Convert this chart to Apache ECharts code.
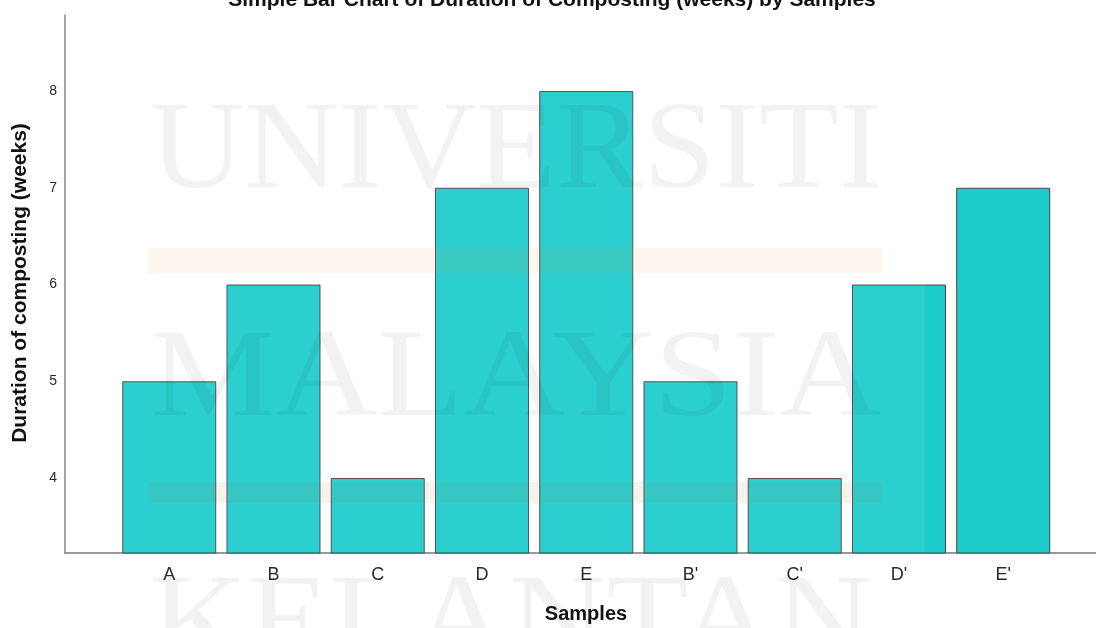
<!DOCTYPE html>
<html>
<head>
<meta charset="utf-8">
<script src="https://cdn.jsdelivr.net/npm/echarts@6/dist/echarts.min.js"></script>
<style>
  html, body { margin: 0; padding: 0; background: #ffffff; }
  #chart { width: 1096px; height: 628px; }
</style>
</head>
<body>
<div id="chart"></div>
<script>
// Samples and composting duration (weeks)
const samples = ['A', 'B', 'C', 'D', 'E', "B'", "C'", "D'", "E'"];
const durationWeeks = [5, 6, 4, 7, 8, 5, 4, 6, 7];

const chartTitle = 'Simple Bar Chart of Duration of Composting (weeks) by Samples';
const xTitle = 'Samples';
const yTitle = 'Duration of composting (weeks)';
const watermarkWords = ['UNIVERSITI', 'MALAYSIA', 'KELANTAN'];

const chart = echarts.init(document.getElementById('chart'), null, { renderer: 'canvas' });

const barData = durationWeeks.map((v, i) => [i, v]);

const boldFont = '"Liberation Sans", Arial, sans-serif';
const narrowFont = '"Liberation Sans Narrow", "Arial Narrow", "Liberation Sans", sans-serif';
const serifFont = '"Liberation Serif", "Times New Roman", serif';

function wordMark(word, y, scaleX) {
  return {
    type: 'text',
    x: 150,
    y: y,
    scaleX: scaleX,
    z: 100,
    silent: true,
    style: {
      text: word,
      font: '125px ' + serifFont,
      fill: 'rgba(0,0,0,0.05)',
      textAlign: 'left',
      textVerticalAlign: 'middle'
    }
  };
}

const option = {
  backgroundColor: '#ffffff',
  animation: false,
  grid: { left: 65, right: 0, top: 15, bottom: 75, containLabel: false },
  xAxis: {
    type: 'value',
    min: -1,
    max: 8.89,
    interval: 1,
    splitLine: { show: false },
    axisTick: { show: false },
    axisLine: { show: true, onZero: false, lineStyle: { color: '#7a7a7a', width: 1.5 } },
    axisLabel: {
      showMinLabel: false,
      showMaxLabel: false,
      margin: 13,
      color: '#2a2a2a',
      fontSize: 18,
      fontFamily: narrowFont,
      formatter: v => (Number.isInteger(v) && samples[v] !== undefined) ? samples[v] : ''
    }
  },
  yAxis: {
    type: 'value',
    min: 3.225,
    max: 8.786,
    splitLine: { show: false },
    axisTick: { show: false },
    axisLine: { show: true, onZero: false, lineStyle: { color: '#8a8a8a', width: 1.5 } },
    axisLabel: {
      showMinLabel: false,
      showMaxLabel: false,
      margin: 8,
      color: '#2a2a2a',
      fontSize: 14,
      fontFamily: narrowFont,
      formatter: v => Number.isInteger(v) ? String(v) : ''
    }
  },
  series: [{
    type: 'bar',
    data: barData,
    barWidth: 94,
    itemStyle: { color: '#1ccccc', borderColor: '#474747', borderWidth: 1 },
    z: 2
  }],
  graphic: [
    // pale haze over the left part of the plot
    {
      type: 'rect', z: 90, silent: true,
      shape: { x: 66, y: 16, width: 859, height: 536 },
      style: { fill: 'rgba(255,255,255,0.07)' }
    },
    // peach bands of the backdrop
    {
      type: 'rect', z: 95, silent: true,
      shape: { x: 148, y: 248, width: 734, height: 25 },
      style: { fill: 'rgba(245,150,70,0.08)' }
    },
    {
      type: 'rect', z: 95, silent: true,
      shape: { x: 148, y: 482, width: 734, height: 21 },
      style: { fill: 'rgba(150,120,80,0.09)' }
    },
    wordMark(watermarkWords[0], 154, 1.044),
    wordMark(watermarkWords[1], 382, 1.128),
    wordMark(watermarkWords[2], 627, 1.077),
    {
      type: 'text', x: 552, y: 0, z: 120,
      style: { text: chartTitle, font: 'bold 21px ' + boldFont, fill: '#111', textAlign: 'center', textVerticalAlign: 'middle' }
    },
    {
      type: 'text', x: 586, y: 614, z: 120,
      style: { text: xTitle, font: 'bold 20px ' + boldFont, fill: '#111', textAlign: 'center', textVerticalAlign: 'middle' }
    },
    {
      type: 'text', x: 20, y: 283, rotation: Math.PI / 2, z: 120,
      style: { text: yTitle, font: 'bold 21px ' + boldFont, fill: '#111', textAlign: 'center', textVerticalAlign: 'middle' }
    }
  ]
};

chart.setOption(option);
</script>
</body>
</html>
